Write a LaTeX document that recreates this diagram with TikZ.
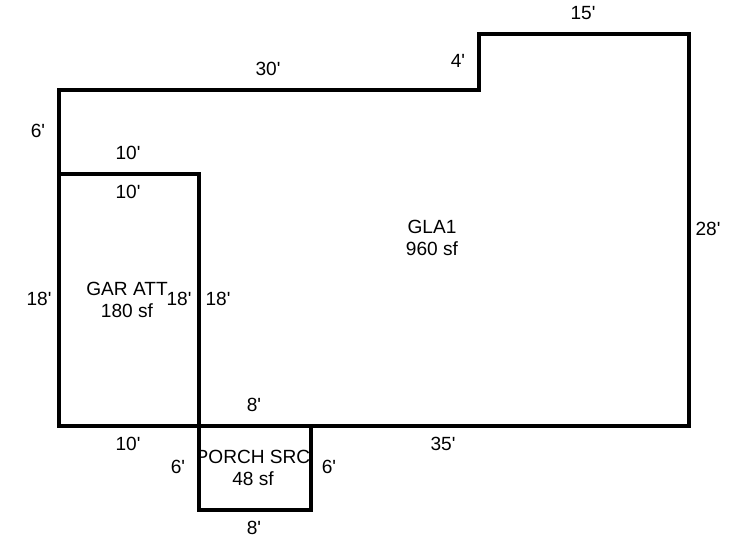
\documentclass[tikz,border=0pt]{standalone}
\usepackage{fontspec}
\setmainfont{Liberation Sans}[Ligatures=TeXOff]
\tikzset{wall/.style={line width=4.8pt,line join=miter,line cap=butt},lab/.style={font=\fontsize{19.1pt}{22pt}\selectfont,inner sep=0pt,align=center,text=black}}
\begin{document}
\begin{tikzpicture}[x=1pt,y=-1pt]
\useasboundingbox (0,0) rectangle (746,547);
\fill[white] (0,0) rectangle (746,547);
\coordinate (a) at (59,90);
\coordinate (b) at (479,90);
\coordinate (c) at (479,34);
\coordinate (d) at (689,34);
\coordinate (e) at (689,426);
\coordinate (f) at (59,426);
\coordinate (g) at (59,174);
\coordinate (h) at (199,174);
\coordinate (i) at (199,510);
\coordinate (j) at (311,510);
\coordinate (k) at (311,426);
\draw[wall] (a) -- (b) -- (c) -- (d) -- (e) -- (f) -- cycle;
\draw[wall] (g) -- (h) -- (i) -- (j) -- (k);
\node[lab] (t1) at (583,13) {15'};
\node[lab] (t2) at (268,69) {30'};
\node[lab] (t3) at (458,61) {4'};
\node[lab] (t4) at (38,131) {6'};
\node[lab] (t5) at (128,153) {10'};
\node[lab] (t6) at (128,192) {10'};
\node[lab] (t7) at (708,229) {28'};
\node[lab] (gla) at (432,237.5) {GLA1\\960 sf};
\node[lab] (gar) at (127,299.5) {GAR ATT\\180 sf};
\node[lab] (t8) at (39,299) {18'};
\node[lab] (t9) at (179,299) {18'};
\node[lab] (t10) at (218,299) {18'};
\node[lab] (t11) at (254,405) {8'};
\node[lab] (t12) at (128,444) {10'};
\node[lab] (t13) at (443,444) {35'};
\node[lab] (t14) at (178,467) {6'};
\node[lab] (t15) at (329,467) {6'};
\node[lab] (por) at (253,467.5) {PORCH SRC\\48 sf};
\node[lab] (t16) at (254,528) {8'};
\end{tikzpicture}
\end{document}
